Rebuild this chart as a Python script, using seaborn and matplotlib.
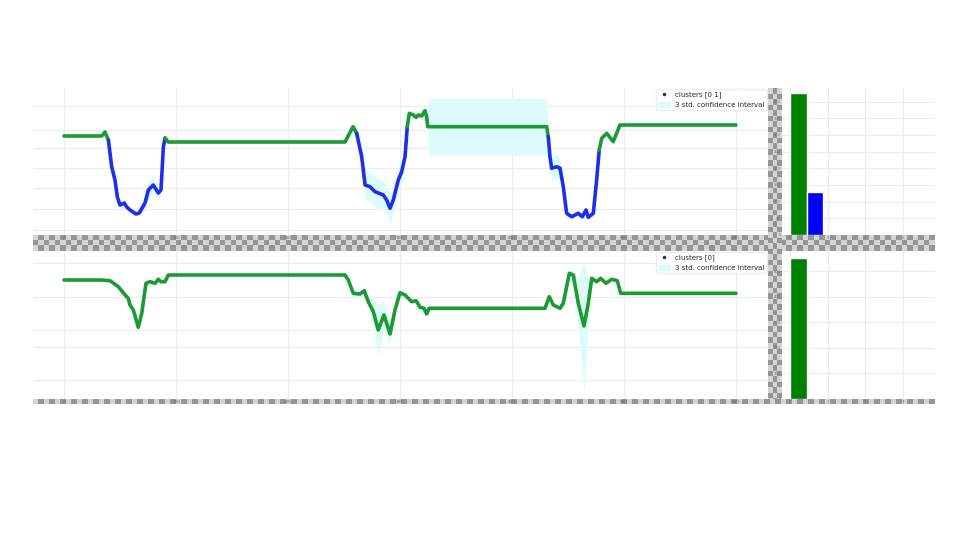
import numpy as np
import pandas as pd
import seaborn as sns
import matplotlib.pyplot as plt
from matplotlib.colors import ListedColormap
from matplotlib.lines import Line2D
from matplotlib.patches import Patch

# top signal, split into clusters 0 (green) and 1 (blue)
top_t = [0, 33.7, 36.6, 39.6, 42.6, 45.5, 47.6, 50.0, 53.8, 56.0, 58.9, 64.3, 67.2,
         72.3, 75.3, 79.7, 84.2, 86.6, 88.7, 90.2, 91.7, 93.1, 250.9, 258.0, 261.3,
         265.8, 268.8, 273.2, 277.7, 285.1, 288.1, 291.1, 294.0, 298.5, 301.5, 304.5,
         306.5, 308.3, 311.9, 314.3, 316.3, 319.4, 322.3, 323.8, 324.7, 325.3, 431.0,
         432.4, 433.9, 435.4, 439.9, 442.9, 445.8, 448.8, 453.3, 459.2, 462.8, 466.1,
         468.1, 472.6, 475.6, 477.9, 480.1, 484.6, 490.4, 496.4, 600.0]
top_val = [9.9, 9.9, 10.3, 9.5, 6.8, 5.5, 3.8, 3.0, 3.2, 2.8, 2.5, 2.1, 2.2,
           3.2, 4.5, 5.0, 4.2, 4.5, 8.8, 9.7, 9.5, 9.3, 9.3, 10.83, 10.17,
           7.83, 5.0, 4.83, 4.33, 4.0, 3.5, 2.67, 3.5, 5.5, 6.33, 7.83,
           10.83, 12.17, 12.0, 11.77, 12.0, 11.9, 12.43, 11.83, 10.83, 10.83, 10.83,
           9.83, 7.83, 6.67, 6.83, 6.67, 4.83, 2.17, 1.83, 2.17, 1.83, 2.5,
           1.77, 2.17, 5.5, 8.5, 9.67, 10.17, 9.33, 11.0, 11.0]
top_cluster = [0, 0, 0, 1, 1, 1, 1, 1, 1, 1, 1, 1, 1,
               1, 1, 1, 1, 1, 1, 0, 0, 0, 0, 0, 1,
               1, 1, 1, 1, 1, 1, 1, 1, 1, 1, 1,
               0, 0, 0, 0, 0, 0, 0, 0, 0, 0, 0,
               1, 1, 1, 1, 1, 1, 1, 1, 1, 1, 1,
               1, 1, 1, 0, 0, 0, 0, 0, 0]
top_std = [0.05, 0.05, 0.05, 0.05, 0.05, 0.05, 0.05, 0.05, 0.05, 0.05, 0.05, 0.05, 0.05,
           0.25, 0.3, 0.3, 0.25, 0.1, 0.05, 0.05, 0.05, 0.05, 0.05, 0.15, 0.15,
           0.4, 0.5, 0.5, 0.5, 0.5, 0.5, 0.5, 0.45, 0.4, 0.35, 0.3,
           0.1, 0.1, 0.1, 0.1, 0.1, 0.1, 0.1, 0.1, 0.1, 0.95, 0.95,
           0.1, 0.3, 0.4, 0.4, 0.35, 0.15, 0.1, 0.1, 0.1, 0.1, 0.1,
           0.1, 0.1, 0.1, 0.05, 0.05, 0.05, 0.05, 0.05, 0.05]

# bottom signal, single cluster
bottom_t = [0, 33.7, 41.1, 48.5, 54.5, 57.4, 58.9, 61.9, 66.3, 69.4, 73.2, 76.8, 81.3,
            84.2, 86.6, 90.2, 93.1, 250.9, 253.8, 258.3, 264.3, 268.1, 271.7, 276.2,
            280.6, 285.7, 291.1, 295.5, 300.0, 304.5, 310.4, 314.3, 317.9, 321.4, 323.8,
            325.9, 429.5, 433.3, 436.9, 442.9, 445.8, 451.2, 454.7, 459.2, 464.3, 468.1,
            471.2, 475.6, 479.2, 483.9, 489.0, 494.0, 497.1, 600.0]
bottom_val = [12.0, 12.0, 11.93, 11.33, 10.5, 10.17, 9.5, 9.0, 7.27, 8.67, 11.67, 11.83, 11.67,
              12.07, 11.83, 11.83, 12.5, 12.5, 12.0, 10.67, 10.6, 10.93, 9.83, 8.83,
              7.0, 8.5, 6.6, 9.0, 10.73, 10.5, 9.83, 9.93, 9.27, 9.17, 8.6,
              9.17, 9.17, 10.33, 9.5, 9.17, 9.67, 12.67, 12.5, 9.67, 7.4, 9.67,
              12.17, 11.83, 12.17, 11.67, 12.07, 11.93, 10.67, 10.67]
bottom_cluster = [0] * len(bottom_t)
bottom_std = [0.05, 0.05, 0.05, 0.05, 0.05, 0.05, 0.05, 0.05, 0.05, 0.05, 0.05, 0.05, 0.05,
              0.05, 0.05, 0.05, 0.05, 0.05, 0.05, 0.1, 0.1, 0.1, 0.2, 0.5,
              0.85, 0.5, 0.4, 0.2, 0.1, 0.05, 0.05, 0.05, 0.05, 0.05, 0.05,
              0.05, 0.05, 0.1, 0.1, 0.05, 0.05, 0.1, 0.2, 0.8, 2.2, 0.8,
              0.1, 0.05, 0.05, 0.05, 0.05, 0.05, 0.05, 0.05]

# cluster sizes
top_counts = [425, 128]
bottom_counts = [553]
cluster_ids = [0, 1]

line_colors = {0: '#1c9a34', 1: '#1d30e8'}
bar_colors = ['green', 'blue']
ci_color = '#ddfbfb'

sns.set_style('whitegrid')
plt.rcParams['font.family'] = ['DejaVu Sans']

fig = plt.figure(figsize=(9.6, 5.4), dpi=100)


def px_rect(x0, y0, x1, y1):
    return [x0 / 960, (540 - y1) / 540, (x1 - x0) / 960, (y1 - y0) / 540]


def checker(x0, y0, x1, y1):
    cax = fig.add_axes(px_rect(x0, y0, x1, y1), zorder=-1)
    nx = int(round((x1 - x0) / 5.5))
    ny = max(1, int(round((y1 - y0) / 5.5)))
    board = np.indices((ny, nx)).sum(axis=0) % 2
    cax.imshow(board, cmap=ListedColormap(['#d4d4d4', '#969696']), aspect='auto',
               interpolation='nearest')
    cax.axis('off')


def draw_series(ax, t, val, cl, std, label):
    df = pd.DataFrame({'t': t, 'val': val, 'cluster': cl, 'std': std})
    ax.fill_between(df['t'], df['val'] - 3 * df['std'], df['val'] + 3 * df['std'],
                    color=ci_color, lw=0, zorder=1)
    # one line per run of the same cluster, sharing the next point so it stays joined
    start = 0
    for i in range(1, len(df) + 1):
        if i == len(df) or df['cluster'][i] != df['cluster'][start]:
            seg = df.iloc[start:min(i + 1, len(df))]
            sns.lineplot(data=seg, x='t', y='val', ax=ax, color=line_colors[df['cluster'][start]],
                         lw=2.6, sort=False, errorbar=None, zorder=3)
            start = i
    handles = [Line2D([], [], ls='', marker='.', ms=3, color='#333333'),
               Patch(color=ci_color)]
    ax.legend(handles, [label, '3 std. confidence interval'], loc='upper right',
              bbox_to_anchor=(1, 1), borderaxespad=0.1, fontsize=5, frameon=True,
              edgecolor='#eeeeee', framealpha=1, handlelength=1.6)


def style_main(ax, yticks, ylim):
    ax.set_xlim(-27.7, 628.6)
    ax.set_ylim(*ylim)
    ax.set_xticks([0, 100, 200, 300, 400, 500, 600])
    ax.set_yticks(yticks)
    ax.tick_params(axis='x', labelsize=3, pad=1, length=0, labelcolor='#666666')
    ax.tick_params(axis='y', labelleft=False, length=0)
    ax.set_xlabel('')
    ax.set_ylabel('')
    ax.grid(color='#ececec', lw=0.8)
    for s in ax.spines.values():
        s.set_visible(False)


def style_bar(ax, ylim, yticks):
    ax.set_xlim(-0.22, 3.86)
    ax.set_ylim(*ylim)
    ax.set_xticks([0, 1, 2, 3])
    ax.set_yticks(yticks)
    ax.tick_params(labelsize=2.5, pad=1, length=0, labelcolor='#666666')
    ax.grid(color='#ececec', lw=0.8)
    for s in ax.spines.values():
        s.set_visible(False)


bar_w = 0.435

ax1 = fig.add_axes(px_rect(33, 88, 768, 235))
draw_series(ax1, top_t, top_val, top_cluster, top_std, 'clusters [0 1]')
style_main(ax1, [0.5, 2.6, 4.7, 6.7, 8.7, 10.5, 12.9], (0, 14.7))

ax2 = fig.add_axes(px_rect(782, 88, 935, 235))
ax2.bar([c * bar_w for c in cluster_ids], top_counts, width=bar_w, align='edge',
        color=bar_colors[:len(top_counts)], zorder=3)
style_bar(ax2, (0, 441), range(0, 450, 50))

ax3 = fig.add_axes(px_rect(33, 251, 768, 399))
draw_series(ax3, bottom_t, bottom_val, bottom_cluster, bottom_std, 'clusters [0]')
style_main(ax3, [2.0, 5.33, 7.0, 10.33, 13.67], (0.1, 14.9))

ax4 = fig.add_axes(px_rect(782, 251, 935, 399))
ax4.bar([c * bar_w for c in cluster_ids[:1]], bottom_counts, width=bar_w, align='edge',
        color=bar_colors[:1], zorder=3)
style_bar(ax4, (0, 580), range(0, 600, 100))

# transparent gaps between the panels
checker(33, 235, 935, 251)
checker(768, 88, 782, 404)
checker(33, 399, 935, 404)

fig.savefig('out.png', dpi=100)
